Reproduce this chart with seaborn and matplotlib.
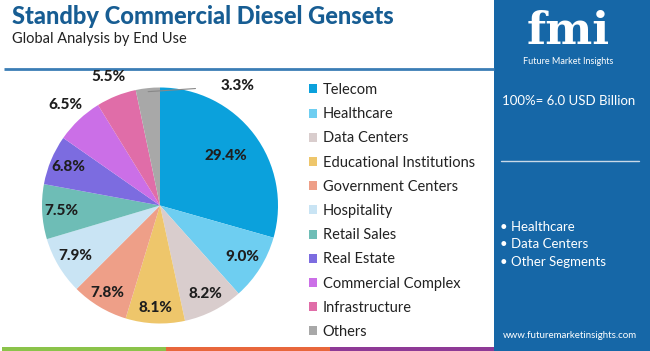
import numpy as np
import pandas as pd
import matplotlib
matplotlib.use('Agg')
import matplotlib.pyplot as plt
import seaborn as sns

#---------------------------------------- DATA ----------------------------------------#
segments = ['Telecom', 'Healthcare', 'Data Centers', 'Educational Institutions',
            'Government Centers', 'Hospitality', 'Retail Sales', 'Real Estate',
            'Commercial Complex', 'Infrastructure', 'Others']
shares = [29.4, 9.0, 8.2, 8.1, 7.8, 7.9, 7.5, 6.8, 6.5, 5.5, 3.3]
colors = ['#0BA1DC', '#6ECEF1', '#D9CDCD', '#EEC66B', '#EE9F88', '#C9E4F4',
          '#6EBDB6', '#7C6CE0', '#CB6FE7', '#E06DA8', '#A8A8A8']
side_bullets = ['Healthcare', 'Data Centers', 'Other Segments']
total_text = '100%= 6.0 USD Billion'

df = pd.DataFrame({'segment': segments, 'share': shares, 'color': colors})

#---------------------------------------- FIGURE ----------------------------------------#
sns.set_theme(style='white')
plt.rcParams['font.family'] = ['Lato', 'DejaVu Sans']

W, H = 650, 351
fig = plt.figure(figsize=(W / 100, H / 100), dpi=100)
fig.patch.set_facecolor('white')

# overlay axes in pixel coords for decorations
bg = fig.add_axes([0, 0, 1, 1])
bg.set_xlim(0, W)
bg.set_ylim(H, 0)
bg.axis('off')

bg.text(12, 17, 'Standby Commercial Diesel Gensets', fontsize=17, fontweight='black',
        color='#175D93', va='center', ha='left')
bg.text(12, 39, 'Global Analysis by End Use', fontsize=10.5, color='#222222',
        va='center', ha='left')
bg.plot([4, 494], [69, 69], color='#3B7DB5', lw=2, solid_capstyle='butt')

# bottom strip
for x0, c in zip([2, 166, 330], ['#8BC34A', '#E8673C', '#8E3A96']):
    bg.add_patch(plt.Rectangle((x0, 347), 164, 4, color=c, lw=0))

# right panel
bg.add_patch(plt.Rectangle((494, 0), 156, H, color='#1667A7', lw=0))
bg.text(568, 31, 'fmi', fontsize=32, fontweight='bold', color='white',
        ha='center', va='center', family='DejaVu Serif')
bg.text(568, 62, 'Future Market Insights', fontsize=6.5, color='white',
        ha='center', va='center')
bg.text(569, 101, total_text, fontsize=9.5, color='white', ha='center', va='center')
bg.plot([501, 639], [161, 161], color='#C9D9E8', lw=1)
for i, b in enumerate(side_bullets):
    bg.text(500, 227 + i * 17.5, '\u2022 ' + b, fontsize=9.5, color='white',
            ha='left', va='center')
bg.text(570, 336, 'www.futuremarketinsights.com', fontsize=7, color='white',
        ha='center', va='center')

#---------------------------------------- PIE ----------------------------------------#
cx, cy, r = 160, 205.5, 118
ax = fig.add_axes([(cx - r) / W, (H - cy - r) / H, 2 * r / W, 2 * r / H])
wedges, _ = ax.pie(df['share'], colors=df['color'], startangle=90, counterclock=False,
                   radius=1, wedgeprops=dict(linewidth=0))
ax.set_xlim(-1, 1)
ax.set_ylim(-1, 1)

inner_r = [0.70, 0.82, 0.84, 0.87, 0.86, 0.84, 0.84, 0.84]
lab_kw = dict(ha='center', va='center', fontsize=11, fontweight='black', color='#1E1E1E')
for i, (w, val) in enumerate(zip(wedges, df['share'])):
    ang = np.deg2rad((w.theta1 + w.theta2) / 2)
    label = f'{val:.1f}%'
    if i < len(inner_r):
        rr = inner_r[i]
        ax.text(rr * np.cos(ang), rr * np.sin(ang), label, **lab_kw)
    elif val > 4:
        rr = 1.17
        ax.text(rr * np.cos(ang), rr * np.sin(ang), label, **lab_kw)
    else:
        ax.annotate(label, xy=(np.cos(ang) * 0.97, np.sin(ang) * 0.97),
                    xytext=(0.66, 1.015), **lab_kw,
                    arrowprops=dict(arrowstyle='-', color='#888888', lw=0.8,
                                    shrinkA=16, shrinkB=0))

leg = ax.legend(wedges, df['segment'], loc='upper left',
                bbox_to_anchor=(309 / W, 1 - 83 / H), bbox_transform=fig.transFigure,
                frameon=False, fontsize=10.5, handlelength=0.58, handleheight=0.58,
                handletextpad=0.35, labelspacing=0.70, borderaxespad=0, borderpad=0)
for t in leg.get_texts():
    t.set_color('#222222')

fig.savefig('out.png', dpi=100)
